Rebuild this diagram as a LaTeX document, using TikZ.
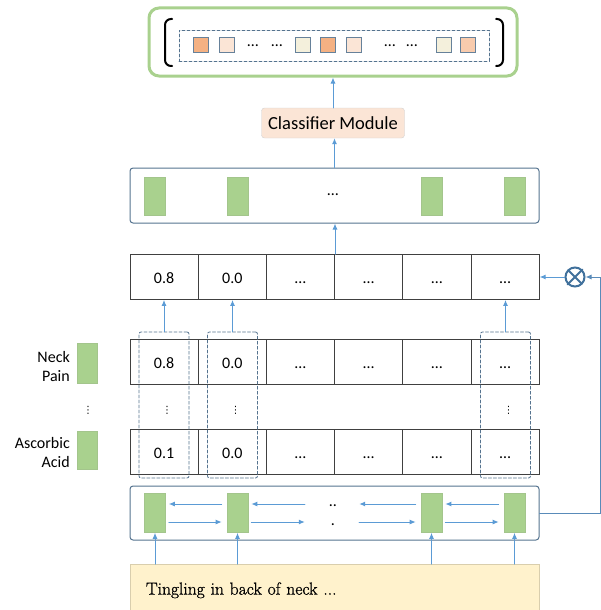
\documentclass[tikz,border=0pt]{standalone}
\usepackage{fontspec}
\newfontfamily\calibri{Carlito}
\newfontfamily\symfont{DejaVu Sans}
\newfontfamily\inputfont[FakeBold=1]{Latin Modern Roman}
\usetikzlibrary{arrows.meta}
\definecolor{arrblue}{HTML}{5B9BD5}
\definecolor{boxgray}{HTML}{55738F}
\definecolor{leafgreen}{HTML}{A9D18E}
\definecolor{peach}{HTML}{FBE5D6}
\definecolor{orng}{HTML}{F4B183}
\definecolor{lightorng}{HTML}{F8CBAD}
\definecolor{cream}{HTML}{F4F0DC}
\definecolor{sand}{HTML}{FFF2CC}
\definecolor{mulblue}{HTML}{41719C}

\begin{document}
\begin{tikzpicture}[x=1pt,y=-1pt,line cap=round,>={Latex[length=6pt,width=5pt]},
  arr/.style={->,arrblue,line width=1pt},
  txt16/.style={font=\calibri\fontsize{16}{19}\selectfont,inner sep=0pt},
  vdot/.style={font=\symfont\fontsize{10}{10}\selectfont,inner sep=0pt},
  cell/.style={draw=black!75,line width=0.8pt,minimum width=68.2pt,minimum height=45pt,
    inner sep=0pt,text height=12pt,text depth=0pt,font=\calibri\fontsize{16}{19}\selectfont},
  hbox/.style={draw=boxgray,line width=1pt,rounded corners=3pt,minimum width=409pt,inner sep=0pt},
  leaf/.style={fill=leafgreen,draw=leafgreen!85!gray,line width=0.6pt,minimum width=21pt,
    minimum height=39pt,inner sep=0pt},
  sq/.style={draw=boxgray!90,line width=0.8pt,minimum size=15pt,inner sep=0pt},
  colbox/.style={draw=boxgray,dash pattern=on 3pt off 2pt,line width=0.8pt,rounded corners=2pt,
    minimum width=50pt,minimum height=146pt},
  lab/.style={txt16,align=right,anchor=east}]
  \useasboundingbox (0,0) rectangle (601,610);

  % output vector
  \node[draw=leafgreen,line width=3pt,rounded corners=10pt,minimum width=368pt,minimum height=68pt] (out) at (333,42) {};
  \node[draw=boxgray,dash pattern=on 3pt off 2pt,line width=0.8pt,minimum width=310pt,minimum height=31pt] (vec) at (334,45.5) {};
  \draw[line width=2pt,rounded corners=6pt] (172,19) -- (165,19) -- (165,66) -- (172,66);
  \draw[line width=2pt,rounded corners=6pt] (496,19) -- (503,19) -- (503,66) -- (496,66);
  \foreach \x/\c [count=\i] in {201/orng,226.5/peach,303/cream,328/orng,354/peach,444/cream,468/lightorng}
    \node[sq,fill=\c] (p\i) at (\x,45) {};
  \foreach \x [count=\i] in {253,277,390,412}
    \node[txt16] (pd\i) at (\x,46) {…};

  % classifier
  \node[draw=black!18,fill=peach,rounded corners=3pt,minimum width=143pt,minimum height=30pt,
    inner sep=0pt,font=\calibri\fontsize{18.5}{20}\selectfont] (cls) at (333,123) {Classifier Module};
  \draw[arr] (cls) -- (out);

  % upper hidden layer
  \node[hbox,minimum height=55pt] (hid2) at (334.5,195.5) {};
  \foreach \x [count=\i] in {155,237.5,431.5,514.5}
    \node[leaf,minimum height=38pt] (a\i) at (\x,196) {};
  \node[txt16] (ad) at (333,195) {…};
  \draw[arr] (hid2.north) -- (hid2.north |- cls.south);

  % score rows
  \foreach \r/\y/\a/\b in {t/277/0.8/0.0,n/362/0.8/0.0,c/452/0.1/0.0}
    \foreach \v [count=\i] in {\a,\b,…,…,…,…}
      \node[cell] (\r\i) at ({95.9+68.2*\i},\y) {\v};
  \draw[arr] (t3.north east) -- (t3.north east |- hid2.south);

  % selected columns
  \foreach \i/\x in {1/164,2/232.5,6/505.5} {
    \node[colbox] (k\i) at (\x,405) {};
    \node[vdot] (kv\i) at (\x+3,410) {⋮};
    \draw[arr] (k\i.north) -- (k\i.north |- t\i.south);
  }

  % labels
  \node[leaf,minimum width=20pt,minimum height=40pt] (gn) at (87,363) {};
  \node[lab] (ln) at (70,366) {Neck\\Pain};
  \node[leaf,minimum width=20pt,minimum height=38pt] (ga) at (87,450) {};
  \node[lab] (la) at (70,452) {Ascorbic\\Acid};
  \node[vdot] (lv) at (88,410) {⋮};

  % lower hidden layer
  \node[hbox,minimum height=54pt] (hid1) at (334.5,513) {};
  \foreach \x [count=\i] in {155,237.5,431.5,514.5}
    \node[leaf] (b\i) at (\x,513) {};
  \node[txt16,align=center,minimum width=46pt] (bm) at (333,515) {..\\.};
  \foreach \a/\b in {b1/b2,b2/bm,bm/b3,b3/b4} {
    \draw[arr] ([xshift=3pt,yshift=-9pt]\a.east |- b1.center) -- ([xshift=-5pt,yshift=-9pt]\b.west |- b1.center);
    \draw[arr] ([xshift=-5pt,yshift=9pt]\b.west |- b1.center) -- ([xshift=3pt,yshift=9pt]\a.east |- b1.center);
  }

  % input text
  \node[fill=sand,draw=sand!85!black,line width=0.6pt,minimum width=409pt,minimum height=52pt,anchor=north,
    text width=377pt,align=left,inner xsep=16pt,font=\inputfont\fontsize{17.5}{20}\selectfont] (txt) at (334.5,564)
    {Tingling in back of neck ...};
  \foreach \i in {1,...,4}
    \draw[arr] (b\i.south |- txt.north) -- (b\i.south);

  % feedback through the product
  \node[circle,draw=mulblue,line width=2pt,minimum size=19pt,inner sep=0pt] (mul) at (575,277) {};
  \draw[mulblue,line width=2pt,shorten <=1pt,shorten >=1pt] (mul.north east) -- (mul.south west)
    (mul.north west) -- (mul.south east);
  \draw[arr] (mul.west) -- (t6.east);
  \draw[arr,draw=arrblue!60!boxgray] (hid1.east) -- ++(61,0) |- (mul.east);
\end{tikzpicture}
\end{document}
